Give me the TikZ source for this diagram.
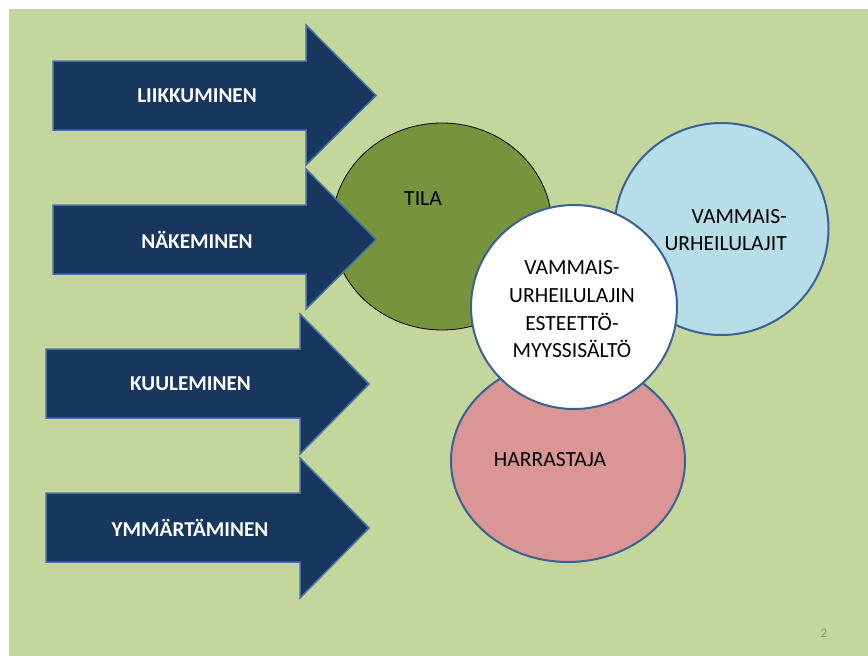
\documentclass[tikz,border=0pt]{standalone}
\usepackage{fontspec}
\setmainfont{Carlito}
\definecolor{bggreen}{HTML}{C3D69B}
\definecolor{arrowfill}{HTML}{17375E}
\definecolor{arrowedge}{HTML}{4A6FA5}
\definecolor{circedge}{HTML}{3B6095}
\definecolor{tilafill}{HTML}{77933C}
\definecolor{bluefill}{HTML}{B7DDE8}
\definecolor{pinkfill}{HTML}{D99694}
\definecolor{pagenum}{HTML}{8C8C8C}
\begin{document}
\begin{tikzpicture}[x=1pt,y=-1pt,
  arrowshape/.style={fill=arrowfill,draw=arrowedge,line width=1.5pt,line join=miter},
  arrowtext/.style={text=white,font=\fontsize{21.2}{25}\selectfont\bfseries,inner sep=0pt},
  circtext/.style={text=black,font=\fontsize{21.6}{27.7}\selectfont,inner sep=0pt},
  bubble/.style={draw=circedge,line width=2pt}]
\useasboundingbox (0,0) rectangle (868,656);
\fill[white] (0,0) rectangle (868,656);
\fill[bggreen] (9,9) rectangle (868,656);
% circles
\draw[fill=tilafill,draw=black,line width=0.8pt] (442,226.5) ellipse [x radius=110,y radius=103.5];
\draw[bubble,fill=bluefill] (721.5,229) ellipse [x radius=107,y radius=106];
\draw[bubble,fill=pinkfill] (568,461) ellipse [x radius=117,y radius=101];
\draw[bubble,fill=white] (574,307) ellipse [x radius=103,y radius=102];
% arrows (drawn over the TILA circle)
\draw[arrowshape] (53,61) -- (306,61) -- (306,25) -- (376,95.5) -- (306,165) -- (306,130) -- (53,130) -- cycle;
\draw[arrowshape] (53,205) -- (306,205) -- (306,169) -- (376,239.5) -- (306,309) -- (306,274) -- (53,274) -- cycle;
\draw[arrowshape] (46,349) -- (300,349) -- (300,314) -- (369,384) -- (300,454) -- (300,418) -- (46,418) -- cycle;
\draw[arrowshape] (46,493) -- (300,493) -- (300,458) -- (369,528) -- (300,598) -- (300,562) -- (46,562) -- cycle;
\node[arrowtext] (liik) at (197,96) {LIIKKUMINEN};
\node[arrowtext] (nake) at (197,240) {NÄKEMINEN};
\node[arrowtext] (kuul) at (190.5,384) {KUULEMINEN};
\node[arrowtext] (ymma) at (190,528) {YMMÄRTÄMINEN};
% circle texts
\node[circtext] (tila) at (423,199) {TILA};
\node[circtext,align=right,anchor=east] (laji) at (787,230) {VAMMAIS-\\URHEILULAJIT};
\node[circtext,align=center] (sisalto) at (572,309.5) {VAMMAIS-\\URHEILULAJIN\\ESTEETTÖ-\\MYYSSISÄLTÖ};
\node[circtext] (harr) at (550,460) {HARRASTAJA};
\node[text=pagenum,font=\fontsize{13}{15}\selectfont,inner sep=0pt] (num) at (824,633) {2};
\end{tikzpicture}
\end{document}
